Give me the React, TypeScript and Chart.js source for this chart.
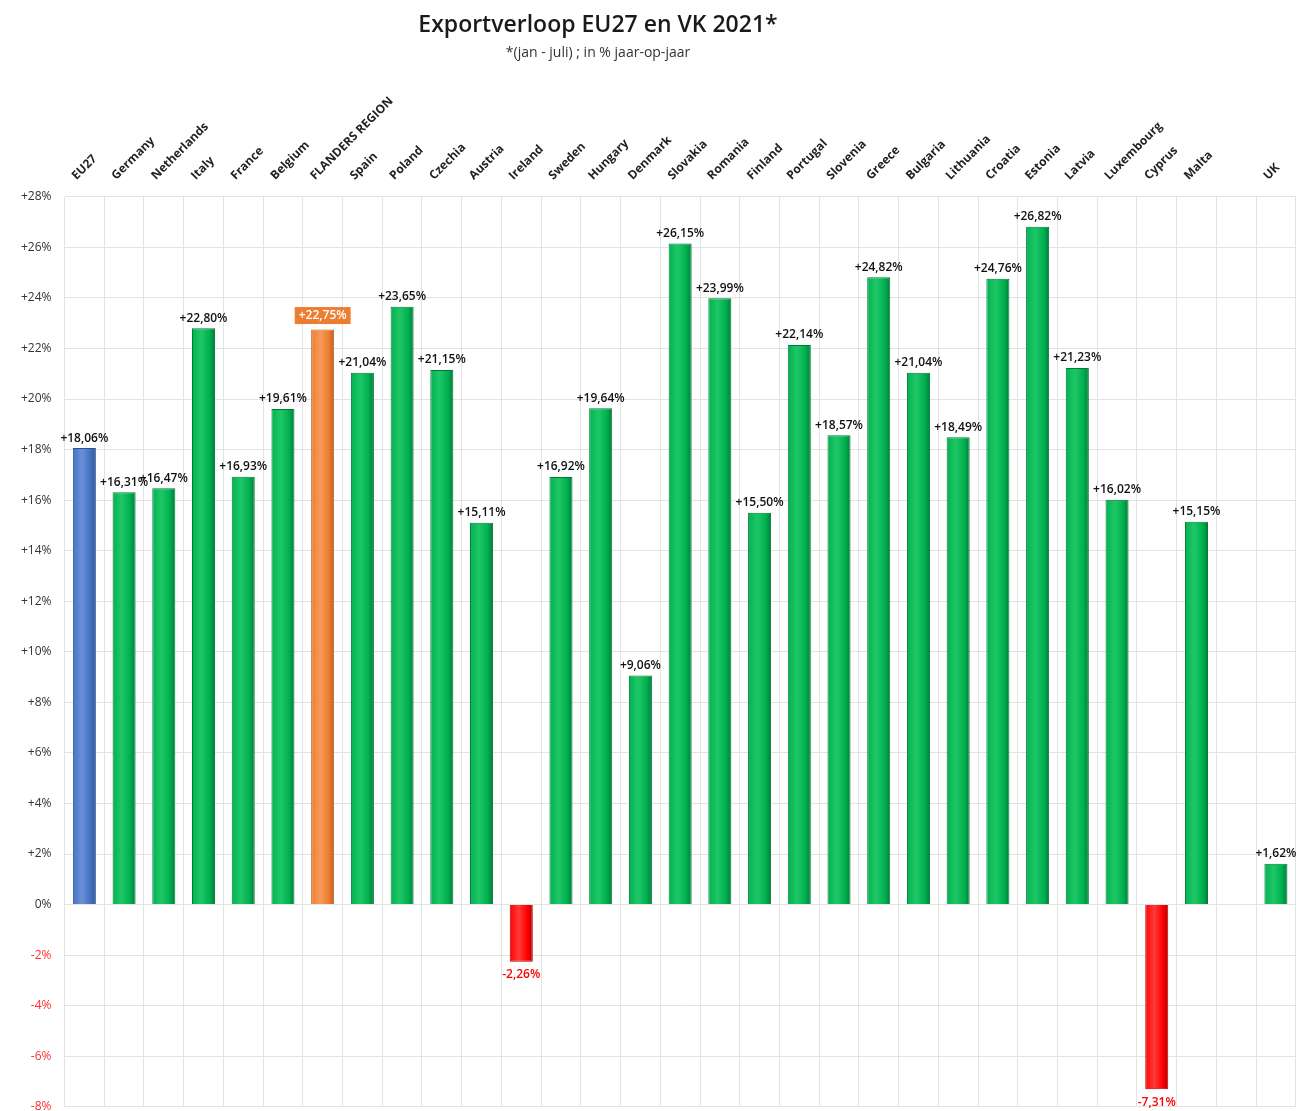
import React, { useEffect, useRef } from "react";
import { Chart, registerables } from "chart.js";

Chart.register(...registerables);

const categories: string[] = [
  "EU27", "Germany", "Netherlands", "Italy", "France", "Belgium", "FLANDERS REGION",
  "Spain", "Poland", "Czechia", "Austria", "Ireland", "Sweden", "Hungary", "Denmark",
  "Slovakia", "Romania", "Finland", "Portugal", "Slovenia", "Greece", "Bulgaria",
  "Lithuania", "Croatia", "Estonia", "Latvia", "Luxembourg", "Cyprus", "Malta", "", "UK",
];

const values: (number | null)[] = [
  18.06, 16.31, 16.47, 22.8, 16.93, 19.61, 22.75,
  21.04, 23.65, 21.15, 15.11, -2.26, 16.92, 19.64, 9.06,
  26.15, 23.99, 15.5, 22.14, 18.57, 24.82, 21.04,
  18.49, 24.76, 26.82, 21.23, 16.02, -7.31, 15.15, null, 1.62,
];

const highlightBlue: string[] = ["EU27"];
const highlightOrange: string[] = ["FLANDERS REGION"];

const TITLE = "Exportverloop EU27 en VK 2021*";
const SUBTITLE = "*(jan - juli) ; in % jaar-op-jaar";

const FONT = "'Open Sans', 'Noto Sans', sans-serif";

function fmt(v: number): string {
  const s = Math.abs(v).toFixed(2).replace(".", ",");
  return (v >= 0 ? "+" : "-") + s + "%";
}

function baseColor(i: number): { fill: string; border: string; light: string } {
  const v = values[i];
  const c = categories[i];
  if (highlightBlue.includes(c)) return { fill: "#4472C4", border: "#2F528F", light: "#6A90D6" };
  if (highlightOrange.includes(c)) return { fill: "#ED7D31", border: "#B85E20", light: "#F59A58" };
  if (v !== null && v < 0) return { fill: "#FF0000", border: "#B00000", light: "#FF3A3A" };
  return { fill: "#00B050", border: "#007A36", light: "#1FC766" };
}

export default function App() {
  const ref = useRef<HTMLCanvasElement | null>(null);

  useEffect(() => {
    if (!ref.current) return;

    const titlePlugin = {
      id: "customTitle",
      afterDraw(chart: any) {
        const ctx = chart.ctx;
        ctx.save();
        ctx.textAlign = "center";
        ctx.textBaseline = "middle";
        ctx.fillStyle = "#1a1a1a";
        ctx.font = `600 23px ${FONT}`;
        ctx.fillText(TITLE, 598, 25);
        ctx.fillStyle = "#333";
        ctx.font = `500 14px ${FONT}`;
        ctx.fillText(SUBTITLE, 598, 53);
        ctx.restore();
      },
    };

    const labelPlugin = {
      id: "barLabels",
      afterDatasetsDraw(chart: any) {
        const ctx = chart.ctx;
        const meta = chart.getDatasetMeta(0);
        ctx.save();
        ctx.font = `600 12px ${FONT}`;
        ctx.textAlign = "center";
        meta.data.forEach((bar: any, i: number) => {
          const v = values[i];
          if (v === null || v === undefined) return;
          const text = fmt(v);
          if (highlightOrange.includes(categories[i])) {
            const w = ctx.measureText(text).width + 8;
            const h = 17;
            const cy = bar.y - 14;
            ctx.fillStyle = "#ED7D31";
            ctx.fillRect(bar.x - w / 2, cy - h / 2, w, h);
            ctx.fillStyle = "#FFFFFF";
            ctx.textBaseline = "middle";
            ctx.fillText(text, bar.x, cy + 0.5);
          } else if (v >= 0) {
            ctx.fillStyle = "#111";
            ctx.textBaseline = "bottom";
            ctx.fillText(text, bar.x, bar.y - 4);
          } else {
            ctx.fillStyle = "#FF0000";
            ctx.textBaseline = "top";
            ctx.fillText(text, bar.x, bar.y + 7);
          }
        });
        ctx.restore();
      },
    };

    const chart = new Chart(ref.current, {
      type: "bar",
      data: {
        labels: categories,
        datasets: [
          {
            data: values as any,
            backgroundColor: (c: any) => {
              const i = c.dataIndex;
              const col = baseColor(i);
              const xs = c.chart.scales && c.chart.scales.x;
              if (!xs || !c.chart.chartArea) return col.fill;
              const cx = xs.getPixelForValue(i);
              if (!isFinite(cx)) return col.fill;
              const half = 12;
              const g = c.chart.ctx.createLinearGradient(cx - half, 0, cx + half, 0);
              g.addColorStop(0, col.fill);
              g.addColorStop(0.4, col.light);
              g.addColorStop(0.75, col.fill);
              g.addColorStop(1, col.border);
              return g;
            },
            borderColor: (c: any) => baseColor(c.dataIndex).border,
            borderWidth: 1,
            barPercentage: 0.58,
            categoryPercentage: 1,
          },
        ],
      },
      options: {
        animation: false,
        responsive: false,
        maintainAspectRatio: false,
        layout: { padding: { top: 80, left: 8, right: 2, bottom: 0 } },
        plugins: {
          legend: { display: false },
          tooltip: { enabled: false },
          title: { display: false },
        },
        scales: {
          x: {
            position: "top",
            grid: { color: "#e3e3e3", offset: true, drawTicks: false },
            border: { display: false },
            ticks: {
              autoSkip: false,
              maxRotation: 45,
              minRotation: 45,
              padding: 14,
              color: "#222",
              font: { family: FONT, size: 12, weight: "bold" as any },
            },
          },
          y: {
            min: -8,
            max: 28,
            grid: { color: "#e3e3e3", drawTicks: false },
            border: { display: false },
            ticks: {
              stepSize: 2,
              padding: 13,
              color: (c: any) => (c.tick && c.tick.value < 0 ? "#FF3030" : "#333"),
              font: { family: FONT, size: 12 },
              callback: (v: any) => (v > 0 ? "+" + v + "%" : v + "%"),
            },
          },
        },
      },
      plugins: [titlePlugin, labelPlugin],
    });

    return () => chart.destroy();
  }, []);

  return (
    <div style={{ position: "absolute", left: 0, top: 0, width: 1302, height: 1111, background: "#fff", overflow: "hidden" }}>
      <canvas ref={ref} width={1302} height={1127} style={{ width: 1302, height: 1127 }} />
    </div>
  );
}
